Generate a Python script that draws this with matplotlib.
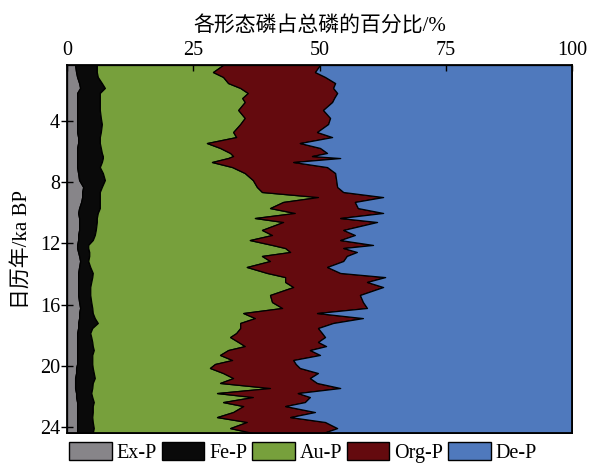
import matplotlib
matplotlib.use("Agg")
import matplotlib.pyplot as plt
import numpy as np
from matplotlib.patches import Patch

plt.rcParams['font.family'] = ['Liberation Serif', 'Noto Sans CJK SC']

# Calendar age (ka BP)
age = [0.34, 0.80, 1.12, 1.52, 1.84, 2.17, 2.50, 2.76, 3.28, 3.80,
       4.20, 4.72, 5.05, 5.44, 5.76, 6.09, 6.29, 6.42, 6.68, 7.01,
       7.40, 7.86, 8.31, 8.64, 8.97, 9.29, 9.69, 10.01, 10.34, 10.60,
       11.12, 11.45, 11.78, 12.10, 12.30, 12.56, 12.82, 13.15, 13.54, 13.93,
       14.20, 14.52, 14.85, 15.37, 15.83, 16.22, 16.55, 16.88, 17.20, 17.53,
       17.86, 18.12, 18.44, 18.71, 18.97, 19.29, 19.62, 19.88, 20.14, 20.47,
       20.80, 21.12, 21.45, 21.78, 22.04, 22.37, 22.63, 23.02, 23.35, 23.67,
       24.07, 24.39]

# Share of each phosphorus form in total P (%)
ex_p = [1.6, 1.8, 2.0, 2.4, 2.6, 2.0, 2.0, 2.0, 2.0, 2.0,
        2.0, 2.0, 2.2, 2.2, 2.0, 2.0, 2.0, 2.0, 2.0, 2.0,
        2.2, 2.4, 3.2, 3.0, 3.0, 2.8, 2.4, 2.2, 2.4, 2.4,
        2.4, 2.2, 2.2, 2.0, 2.0, 2.2, 2.4, 2.6, 2.4, 2.2,
        2.2, 2.2, 2.2, 2.2, 2.4, 2.6, 2.4, 2.4, 2.2, 2.2,
        2.0, 2.0, 2.0, 2.0, 2.0, 2.0, 2.0, 2.0, 1.8, 1.8,
        1.6, 1.6, 1.6, 1.8, 1.8, 2.0, 2.0, 2.0, 2.0, 2.0,
        2.0, 2.0]
fe_p = [4.3, 4.1, 4.1, 4.5, 4.9, 4.5, 4.5, 4.5, 4.5, 4.7,
        4.9, 4.7, 4.3, 4.3, 4.7, 4.9, 5.1, 5.1, 4.9, 4.5,
        4.9, 5.1, 3.7, 3.5, 3.5, 3.7, 4.1, 3.9, 3.5, 3.5,
        3.3, 3.3, 2.9, 2.2, 2.2, 2.2, 2.0, 1.6, 2.2, 2.9,
        2.8, 2.6, 2.4, 2.4, 2.4, 2.4, 2.7, 3.1, 3.9, 2.8,
        2.6, 2.8, 3.0, 3.1, 3.3, 3.0, 3.0, 3.0, 3.3, 3.5,
        3.9, 3.5, 3.4, 3.0, 3.2, 3.3, 3.1, 3.1, 3.0, 3.1,
        3.3, 3.1]
au_p = [25.0, 23.0, 24.8, 25.0, 26.8, 29.3, 28.2, 28.7, 27.4, 28.5,
        27.4, 26.2, 27.0, 21.2, 23.6, 25.4, 25.8, 24.8, 21.8, 26.2,
        28.1, 29.3, 30.7, 32.1, 43.2, 36.3, 33.7, 39.0, 31.3, 36.9,
        32.9, 35.1, 31.1, 36.4, 39.0, 39.8, 34.2, 36.0, 31.0, 34.5,
        38.2, 38.4, 40.2, 35.6, 35.8, 37.6, 29.8, 31.7, 28.2, 29.3,
        28.9, 27.5, 28.9, 30.1, 26.6, 25.3, 27.7, 24.3, 23.2, 25.6,
        27.4, 25.2, 35.2, 24.9, 31.8, 25.6, 29.8, 27.8, 24.7, 30.5,
        27.0, 31.7]
org_p = [19.2, 20.2, 20.2, 21.2, 18.4, 17.7, 18.2, 17.3, 16.8, 16.9,
         17.4, 16.6, 19.0, 18.4, 19.8, 19.2, 15.6, 22.2, 16.1, 18.8,
         17.9, 16.5, 15.9, 16.1, 12.9, 14.2, 17.4, 17.5, 16.9, 18.6,
         16.1, 16.4, 17.9, 20.0, 11.5, 13.2, 16.8, 14.5, 15.9, 14.5,
         19.8, 16.2, 17.8, 17.8, 18.0, 16.8, 14.6, 21.4, 18.4, 15.4,
         17.0, 18.8, 15.8, 16.1, 16.2, 19.8, 12.1, 16.0, 17.8, 18.8,
         15.2, 19.2, 13.9, 16.0, 11.3, 16.2, 8.3, 16.2, 14.5, 15.5,
         21.2, 13.9]
de_p = [49.9, 50.9, 48.9, 46.9, 47.3, 46.5, 47.1, 47.5, 49.3, 47.9,
        48.3, 50.5, 47.5, 53.9, 49.9, 48.5, 51.5, 45.9, 55.2, 48.5,
        46.9, 46.7, 46.5, 45.3, 37.4, 43.0, 42.4, 37.4, 45.9, 38.6,
        45.3, 43.0, 45.9, 39.4, 45.3, 42.6, 44.6, 45.3, 48.5, 45.9,
        37.0, 40.6, 37.4, 42.0, 41.4, 40.6, 50.5, 41.4, 47.3, 50.3,
        49.5, 48.9, 50.3, 48.7, 51.9, 49.9, 55.2, 54.7, 53.9, 50.3,
        51.9, 50.5, 45.9, 54.3, 51.9, 52.9, 56.8, 50.9, 55.8, 48.9,
        46.5, 49.3]

labels = ['Ex-P', 'Fe-P', 'Au-P', 'Org-P', 'De-P']
colors = ['#878589', '#0a0a0a', '#77a03c', '#640a0e', '#4f79bd']
x_ticks = [0, 25, 50, 75, 100]
y_ticks = [4, 8, 12, 16, 20, 24]

fig = plt.figure(figsize=(5.91, 4.63), dpi=100)
ax = fig.add_axes([0.1134, 0.0648, 0.8545, 0.7948])

series = [ex_p, fe_p, au_p, org_p, de_p]
y = np.array(age)
left = np.zeros(len(age))
for vals, col in zip(series, colors):
    right = left + np.array(vals)
    ax.fill_betweenx(y, left, right, facecolor=col, edgecolor='black',
                     linewidth=0.9)
    left = right

ax.set_xlim(0, 100)
ax.set_ylim(age[-1], age[0])
ax.set_xticks(x_ticks)
ax.set_yticks(y_ticks)
ax.xaxis.tick_top()
ax.xaxis.set_label_position('top')
ax.tick_params(axis='both', width=1, labelsize=14.5, colors='black')
ax.tick_params(axis='x', direction='in', length=4, pad=3.5)
ax.tick_params(axis='y', direction='inout', length=8, pad=1)
for s in ax.spines.values():
    s.set_linewidth(1.3)
    s.set_color('black')

ax.set_xlabel('各形态磷占总磷的百分比/%', fontsize=15, labelpad=7)
ax.set_ylabel('日历年/ka BP', fontsize=15, labelpad=6)

handles = [Patch(facecolor=c, edgecolor='black', linewidth=1.0) for c in colors]
fig.legend(handles, labels, loc='center', bbox_to_anchor=(0.513, 0.022),
           ncol=5, frameon=False, fontsize=14.5, handlelength=2.1,
           handleheight=1.0, handletextpad=0.25, columnspacing=0.25,
           borderpad=0, borderaxespad=0)

fig.savefig('out.png', dpi=100)
